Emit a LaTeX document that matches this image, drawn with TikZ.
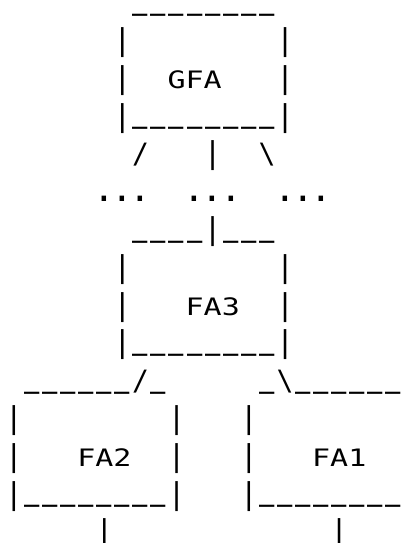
\documentclass[tikz,border=0pt]{standalone}
\usepackage{fontspec}
\usepackage{graphicx}
\newfontfamily\artfont{DejaVu Sans Mono}
\newlength\artcw
\setlength\artcw{18.07pt}
% every cell is squeezed to 0.8 in height; the specials compensate
\newcommand\aU{\raisebox{-2.75pt}{\scalebox{0.847}[2.27]{\raisebox{6.42pt}{\_}}}}
\newcommand\aB{\scalebox{1}[1.25]{|}}
\newcommand\aS{{\fontsize{28pt}{28pt}\selectfont\scalebox{1}[1.25]{/}}}
\newcommand\aK{{\fontsize{28pt}{28pt}\selectfont\scalebox{1}[1.25]{\textbackslash}}}
\newcommand\aD{{\fontsize{36pt}{36pt}\selectfont\scalebox{1}[1.25]{.}}}
\def\artline#1{\artA#1\relax}
\def\artA#1{\ifx#1\relax\else\makebox[\artcw]{\scalebox{1}[0.8]{#1}}\expandafter\artA\fi}
\tikzset{
  artrow/.style={anchor=base west, inner sep=0pt, outer sep=0pt,
    font=\artfont\fontsize{30pt}{30pt}\selectfont}
}
\begin{document}
\begin{tikzpicture}[x=1pt,y=-1pt]
\useasboundingbox (0,0) rectangle (407,543);
\node[artrow] (l1)  at (4.97, 12.7) {\artline{~~~~~~~\aU\aU\aU\aU\aU\aU\aU\aU}};
\node[artrow] (l2)  at (4.97, 50.5) {\artline{~~~~~~\aB~~~~~~~~\aB}};
\node[artrow] (l3)  at (4.97, 88.3) {\artline{~~~~~~\aB~~GFA~~~\aB}};
\node[artrow] (l4)  at (4.97,126.1) {\artline{~~~~~~\aB\aU\aU\aU\aU\aU\aU\aU\aU\aB}};
\node[artrow] (l5)  at (4.97,163.9) {\artline{~~~~~~~\aS~~~\aB~~\aK}};
\node[artrow] (l6)  at (4.97,201.7) {\artline{~~~~~\aD\aD\aD~~\aD\aD\aD~~\aD\aD\aD}};
\node[artrow] (l7)  at (4.97,239.5) {\artline{~~~~~~~\aU\aU\aU\aU\aB\aU\aU\aU}};
\node[artrow] (l8)  at (4.97,277.3) {\artline{~~~~~~\aB~~~~~~~~\aB}};
\node[artrow] (l9)  at (4.97,315.1) {\artline{~~~~~~\aB~~~FA3~~\aB}};
\node[artrow] (l10) at (4.97,352.9) {\artline{~~~~~~\aB\aU\aU\aU\aU\aU\aU\aU\aU\aB}};
\node[artrow] (l11) at (4.97,390.7) {\artline{~\aU\aU\aU\aU\aU\aU\aS\aU~~~~~\aU\aK\aU\aU\aU\aU\aU\aU}};
\node[artrow] (l12) at (4.97,428.5) {\artline{\aB~~~~~~~~\aB~~~\aB}};
\node[artrow] (l13) at (4.97,466.3) {\artline{\aB~~~FA2~~\aB~~~\aB~~~FA1}};
\node[artrow] (l14) at (4.97,504.1) {\artline{\aB\aU\aU\aU\aU\aU\aU\aU\aU\aB~~~\aB\aU\aU\aU\aU\aU\aU\aU\aU}};
\node[artrow] (l15) at (4.97,541.9) {\artline{~~~~~\aB~~~~~~~~~~~~\aB}};
\end{tikzpicture}
\end{document}
